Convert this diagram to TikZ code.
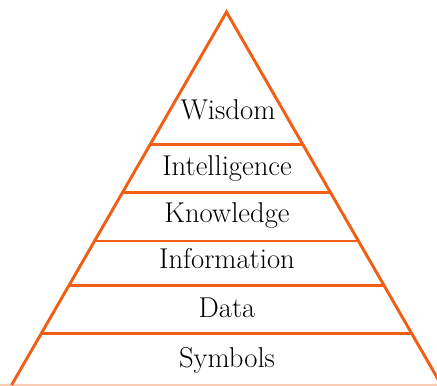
\documentclass[tikz,border=0pt]{standalone}
\usetikzlibrary{calc}
\definecolor{pyrorange}{RGB}{240,95,20}
\definecolor{baseorange}{RGB}{248,205,180}
\begin{document}
\begin{tikzpicture}[x=0.75pt,y=-0.75pt,
  edge/.style={draw=pyrorange,line width=2.2pt,line join=miter},
  level/.style={anchor=base,font=\fontsize{21.5}{24}\selectfont,text=black,inner sep=0pt}]
\useasboundingbox (0,0) rectangle (437,386);
\clip (0,0) rectangle (437,386);
\coordinate (apex) at (226.5,12);
\coordinate (bl) at (11.6,385);
\coordinate (br) at (441.4,385);
\coordinate (fl) at (0,385);
\coordinate (fr) at (437,385);
\draw[draw=baseorange,line width=1.2pt] (fl) -- (fr);
\draw[edge] (bl) -- (apex) -- (br);
\foreach \t/\n in {0.354/a,0.485/b,0.614/c,0.732/d,0.863/e}{
  \coordinate (l\n) at ($(apex)!\t!(bl)$);
  \coordinate (r\n) at ($(apex)!\t!(br)$);
  \draw[edge] (l\n) -- (r\n);
}
\node[level] (wisdom) at (228,119) {Wisdom};
\node[level] (intel) at (227,175) {Intelligence};
\node[level] (know) at (227,222) {Knowledge};
\node[level] (info) at (227,268) {Information};
\node[level] (data) at (227,317) {Data};
\node[level] (sym) at (227,367) {Symbols};
\end{tikzpicture}
\end{document}
